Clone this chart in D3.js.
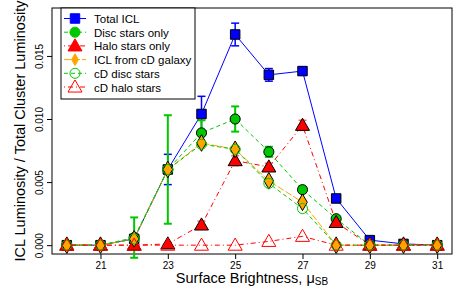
<!DOCTYPE html>
<html>
<head>
<meta charset="utf-8">
<script src="https://cdn.jsdelivr.net/npm/d3@7"></script>
<style>
  body { margin: 0; background: #fff; }
  text { font-family: "Liberation Sans", Arial, sans-serif; }
</style>
</head>
<body>
<div id="chart"></div>
<script>
// Surface brightness bins
const mu = [20, 21, 22, 23, 24, 25, 26, 27, 28, 29, 30, 31];

const totalICL = [0, 0, 0.0005, 0.0060, 0.0104, 0.0167, 0.0135, 0.0138, 0.0037, 0.0004, 0.0001, 0];
const totalErr = [0, 0, 0.0003, 0.0012, 0.0014, 0.0009, 0.0005, 0.0003, 0.0002, 0.0001, 0, 0];

const discOnly = [0, 0, 0.0006, 0.0060, 0.0089, 0.0100, 0.0074, 0.0044, 0.0021, 0, 0, 0];
const discErr = [0, 0, 0.0016, 0.0043, 0.0010, 0.0010, 0.0004, 0.0002, 0.0002, 0, 0, 0];

const haloOnly = [0, 0, 0, 0.0001, 0.0016, 0.0067, 0.0062, 0.0095, 0.0018, 0, 0, 0];
const haloErr = [0, 0, 0, 0.0001, 0.0003, 0.0004, 0.0003, 0.0004, 0.0002, 0, 0, 0];

const cdICL = [0, 0, 0.0005, 0.0060, 0.0081, 0.0076, 0.0051, 0.0034, 0, 0, 0, 0];
const cdDisc = [0, 0, 0.0005, 0.0060, 0.0080, 0.0076, 0.0049, 0.0029, 0, 0, 0, 0];
const cdHalo = [0, 0, 0, 0, 0, 0, 0.0003, 0.0007, 0, 0, 0, 0];

const xTicks = [21, 23, 25, 27, 29, 31];
const yTicks = [0, 0.005, 0.010, 0.015];

const W = 454, H = 289;
const margin = { top: 8, right: 2, bottom: 35, left: 52 };

const svg = d3.select("#chart").append("svg").attr("width", W).attr("height", H);

const x = d3.scaleLinear().domain([19.56, 31.44]).range([margin.left, W - margin.right]);
const y = d3.scaleLinear().domain([-0.0007, 0.0188]).range([H - margin.bottom, margin.top]);

const series = [
  { name: "Total ICL", vals: totalICL, err: totalErr, color: "#0000ff", dash: null, shape: "square", fill: "#0000ff" },
  { name: "Disc stars only", vals: discOnly, err: discErr, color: "#00c800", dash: "4,3", shape: "circle", fill: "#00c800", errW: 2 },
  { name: "Halo stars only", vals: haloOnly, err: haloErr, color: "#ff0000", dash: "1,3,5,3", shape: "triangle", fill: "#ff0000", errOp: 0.6 },
  { name: "ICL from cD galaxy", vals: cdICL, err: null, color: "#ffa500", dash: "7,2", shape: "diamond", fill: "#ffa500" },
  { name: "cD disc stars", vals: cdDisc, err: null, color: "#00c800", dash: "4,3", shape: "circle", fill: "none" },
  { name: "cD halo stars", vals: cdHalo, err: null, color: "#ff0000", dash: "1,3,5,3", shape: "triangle", fill: "none" },
];

const symbolType = { square: d3.symbolSquare, circle: d3.symbolCircle, triangle: d3.symbolTriangle, diamond: d3.symbolDiamond };
const symbolSize = { square: 90, circle: 80, triangle: 85, diamond: 80 };

// axes
const xAxis = svg.append("g")
  .attr("transform", `translate(0,${H - margin.bottom})`)
  .call(d3.axisBottom(x).tickValues(xTicks).tickSize(5).tickPadding(3).tickFormat(d3.format("d")));
xAxis.select(".domain").remove();
xAxis.selectAll("text").attr("font-size", 10).attr("fill", "#000");

const yAxis = svg.append("g")
  .attr("transform", `translate(${margin.left},0)`)
  .call(d3.axisLeft(y).tickValues(yTicks).tickSize(5).tickFormat(d3.format(".3f")));
yAxis.select(".domain").remove();
yAxis.selectAll("text")
  .attr("font-size", 10).attr("fill", "#000")
  .attr("x", null).attr("dy", null)
  .attr("text-anchor", "middle")
  .attr("transform", "translate(-9,0) rotate(-90)");

// frame
svg.append("rect")
  .attr("x", margin.left).attr("y", margin.top)
  .attr("width", W - margin.left - margin.right)
  .attr("height", H - margin.top - margin.bottom)
  .attr("fill", "none").attr("stroke", "#000").attr("stroke-width", 1);

// axis labels
svg.append("text")
  .attr("x", (margin.left + W - margin.right) / 2)
  .attr("y", 283)
  .attr("text-anchor", "middle")
  .attr("font-size", 14.5)
  .html('Surface Brightness, μ<tspan dy="2" font-size="10">SB</tspan>');

svg.append("text")
  .attr("transform", `translate(25,${(margin.top + H - margin.bottom) / 2}) rotate(-90)`)
  .attr("text-anchor", "middle")
  .attr("font-size", 14.5)
  .text("ICL Luminosity / Total Cluster Luminosity");

const plot = svg.append("g");

const line = d3.line().x((d) => x(d[0])).y((d) => y(d[1]));

// lines and error bars
series.forEach((s) => {
  const pts = mu.map((m, i) => [m, s.vals[i]]);
  plot.append("path")
    .datum(pts)
    .attr("d", line)
    .attr("fill", "none")
    .attr("stroke", s.color)
    .attr("stroke-width", 1)
    .attr("stroke-dasharray", s.dash);

  if (s.err) {
    const eg = plot.append("g")
      .attr("stroke", s.color)
      .attr("stroke-width", s.errW || 1.5)
      .attr("opacity", s.errOp || 1);
    mu.forEach((m, i) => {
      if (!s.err[i]) return;
      const cx = x(m);
      const y0 = y(s.vals[i] - s.err[i]), y1 = y(s.vals[i] + s.err[i]);
      eg.append("line").attr("x1", cx).attr("x2", cx).attr("y1", y0).attr("y2", y1);
      eg.append("line").attr("x1", cx - 4).attr("x2", cx + 4).attr("y1", y0).attr("y2", y0);
      eg.append("line").attr("x1", cx - 4).attr("x2", cx + 4).attr("y1", y1).attr("y2", y1);
    });
  }
});

// markers
series.forEach((s) => {
  const sym = d3.symbol().type(symbolType[s.shape]).size(symbolSize[s.shape]);
  plot.append("g")
    .selectAll("path")
    .data(mu.map((m, i) => [m, s.vals[i]]))
    .join("path")
    .attr("transform", (d) => `translate(${x(d[0])},${y(d[1]) + (s.shape === "triangle" ? 1 : 0)})`)
    .attr("d", sym)
    .attr("fill", s.fill)
    .attr("stroke", s.fill === "none" ? s.color : "#000")
    .attr("stroke-width", 1);
});

// legend
const lg = svg.append("g");
lg.append("rect")
  .attr("x", 61).attr("y", margin.top)
  .attr("width", 134).attr("height", 91)
  .attr("fill", "#fff").attr("stroke", "#000");

series.forEach((s, i) => {
  const ly = 18.5 + i * 13.7;
  lg.append("line")
    .attr("x1", 64).attr("x2", 86).attr("y1", ly).attr("y2", ly)
    .attr("stroke", s.color).attr("stroke-dasharray", s.dash);
  const sym = d3.symbol().type(symbolType[s.shape]).size(s.shape === "diamond" ? 40 : symbolSize[s.shape]);
  lg.append("path")
    .attr("transform", `translate(75,${ly + (s.shape === "triangle" ? 1 : 0)})`)
    .attr("d", sym)
    .attr("fill", s.fill)
    .attr("stroke", s.color);
  lg.append("text")
    .attr("x", 94).attr("y", ly + 4.5)
    .attr("font-size", 11.5)
    .text(s.name);
});
</script>
</body>
</html>
